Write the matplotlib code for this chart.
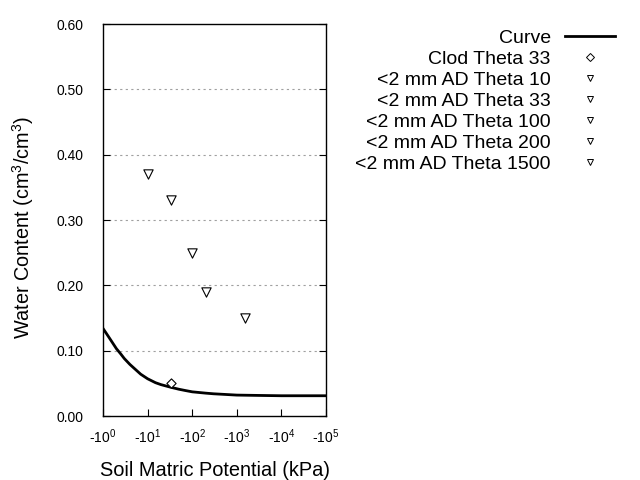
import matplotlib
matplotlib.use("Agg")
import matplotlib.pyplot as plt
from matplotlib.lines import Line2D

plt.rcParams["font.family"] = ["Liberation Sans", "DejaVu Sans"]
plt.rcParams["mathtext.fontset"] = "custom"
plt.rcParams["mathtext.rm"] = "Liberation Sans"
plt.rcParams["mathtext.it"] = "Liberation Sans"

# fitted curve (kPa, cm3/cm3)
curve_psi = [1, 1.2, 1.5, 2, 2.5, 3, 4, 5, 7, 10, 15, 20, 33, 50, 70, 100,
             200, 300, 1000, 3000, 10000, 100000]
curve_theta = [0.134, 0.126, 0.116, 0.103, 0.095, 0.088, 0.079, 0.073, 0.064,
               0.057, 0.051, 0.048, 0.044, 0.041, 0.039, 0.037, 0.035, 0.034,
               0.032, 0.0315, 0.031, 0.031]

clod_psi = [33]
clod_theta = [0.05]

ad_labels = ["<2 mm AD Theta 10", "<2 mm AD Theta 33", "<2 mm AD Theta 100",
             "<2 mm AD Theta 200", "<2 mm AD Theta 1500"]
ad_psi = [10, 33, 100, 200, 1500]
ad_theta = [0.37, 0.33, 0.25, 0.19, 0.15]

x_ticks = [1, 10, 100, 1000, 10000, 100000]
x_ticklabels = ["-10$^{%d}$" % i for i in range(6)]
y_ticks = [0.0, 0.1, 0.2, 0.3, 0.4, 0.5, 0.6]

fig = plt.figure(figsize=(6.4, 4.8), dpi=100)
ax = fig.add_axes([103 / 640, 64 / 480, 223 / 640, 392 / 480])

ax.plot(curve_psi, curve_theta, color="black", lw=2.0)
ax.scatter(clod_psi, clod_theta, marker="D", s=22, facecolor="white",
           edgecolor="black", linewidths=0.8, zorder=3)
for p, t in zip(ad_psi, ad_theta):
    ax.scatter([p], [t], marker="v", s=45, facecolor="white",
               edgecolor="black", linewidths=0.8, zorder=3)

ax.set_xscale("log")
ax.set_xlim(1, 100000)
ax.set_ylim(0, 0.6)
ax.set_xticks(x_ticks)
ax.set_xticklabels(x_ticklabels)
ax.xaxis.set_minor_locator(matplotlib.ticker.NullLocator())
ax.set_yticks(y_ticks)
ax.set_yticklabels([f"{v:.2f}" for v in y_ticks])
ax.tick_params(axis="y", direction="in", right=True, length=5, pad=14, labelsize=10)
ax.tick_params(axis="x", direction="in", top=False, length=5, pad=8, labelsize=10)
for yv in y_ticks[1:-1]:
    ax.axhline(yv, color="#a0a0a0", lw=0.8, ls=(0, (2, 3)), zorder=0)
for s in ax.spines.values():
    s.set_linewidth(1.0)

ax.set_xlabel("Soil Matric Potential (kPa)", fontsize=14.4, labelpad=11)
ax.set_ylabel(r"Water Content (cm$^3$/cm$^3$)", fontsize=14.3)
ax.yaxis.set_label_coords(-0.3, 0.48)

handles = [Line2D([], [], color="black", lw=2.0),
           Line2D([], [], ls="none", marker="D", ms=4, mfc="white", mec="black", mew=0.7)]
handles += [Line2D([], [], ls="none", marker="v", ms=5, mfc="white", mec="black", mew=0.7)
            for _ in ad_labels]
labels = ["Curve", "Clod Theta 33"] + ad_labels
fig.legend(handles, labels, loc="upper right", bbox_to_anchor=(615 / 640, 1 - 29 / 480),
           frameon=False, markerfirst=False, fontsize=14, handlelength=2.58,
           handletextpad=0.72, labelspacing=0.18, borderaxespad=0, borderpad=0)

fig.savefig("out.png", dpi=100)
